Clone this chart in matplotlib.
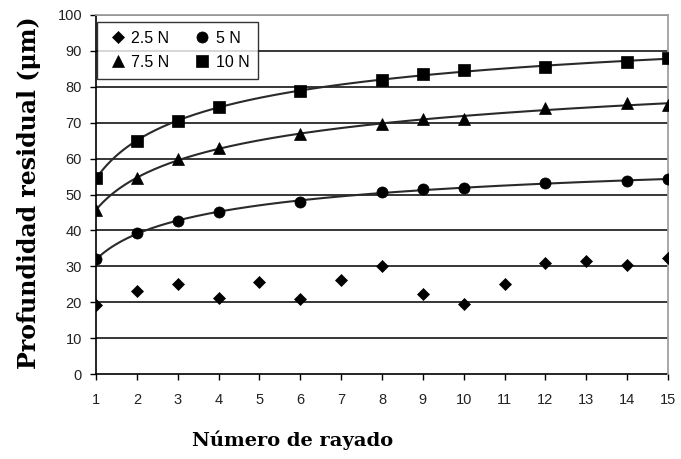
import numpy as np
import matplotlib
matplotlib.use('Agg')
import matplotlib.pyplot as plt

# datos
x_all = [1, 2, 3, 4, 5, 6, 7, 8, 9, 10, 11, 12, 13, 14, 15]
y_25 = [19.3, 23.0, 25.2, 21.3, 25.6, 21.0, 26.3, 30.2, 22.2, 19.5, 25.0, 31.0, 31.6, 30.5, 32.2]

x_fit = [1, 2, 3, 4, 6, 8, 9, 10, 12, 14, 15]
y_5 = [31.9, 39.2, 42.6, 45.2, 48.0, 50.8, 51.4, 51.7, 53.3, 53.8, 54.2]
y_75 = [45.7, 54.5, 59.8, 63.0, 66.8, 69.7, 70.9, 71.0, 74.2, 75.5, 74.9]
y_10 = [54.5, 65.0, 70.5, 74.3, 78.8, 82.0, 83.5, 84.6, 85.6, 87.0, 87.9]

x_ticks = list(range(1, 16))
y_ticks = list(range(0, 101, 10))


def trend(xs, ys):
    # linea de tendencia ajustada en ln(x)
    c = np.polyfit(np.log(xs), ys, 2)
    xx = np.linspace(min(xs), max(xs), 300)
    return xx, np.polyval(c, np.log(xx))


fig = plt.figure(figsize=(6.81, 4.59), dpi=100)
ax = fig.add_axes([96 / 681, 1 - 374 / 459, (668 - 96) / 681, (374 - 15) / 459])

for yv in y_ticks[1:]:
    ax.axhline(yv, color='black', lw=1.1, zorder=1)

for ys in (y_5, y_75, y_10):
    xx, yy = trend(x_fit, ys)
    ax.plot(xx, yy, color='#2a2a2a', lw=1.5, zorder=2)

h25, = ax.plot(x_all, y_25, 'D', color='black', ms=6.3, mew=0.5, ls='none', zorder=3)
h5, = ax.plot(x_fit, y_5, 'o', color='black', ms=8, mew=0.5, ls='none', zorder=3)
h75, = ax.plot(x_fit, y_75, '^', color='black', ms=8, mew=0.5, ls='none', zorder=3)
h10, = ax.plot(x_fit, y_10, 's', color='black', ms=8.5, mew=0.5, ls='none', zorder=3)

ax.set_xlim(1, 15)
ax.set_ylim(0, 100)
ax.set_xticks(x_ticks)
ax.set_yticks(y_ticks)
ax.tick_params(direction='out', length=4, width=1, labelsize=10.5, pad=6,
               labelfontfamily='Liberation Sans', labelcolor='#222222')
ax.tick_params(axis='x', pad=10)
for s in ('top', 'right'):
    ax.spines[s].set_color('#a0a0a0')
    ax.spines[s].set_linewidth(1.3)
ax.spines['left'].set_linewidth(1.2)
ax.spines['left'].set_color('black')
ax.spines['bottom'].set_visible(False)
ax.axhline(0, color='black', lw=1.2, zorder=1, clip_on=False)

ax.set_xlabel('Número de rayado', family='DejaVu Serif', fontweight='bold',
              fontsize=14)
ax.xaxis.label.set_verticalalignment('center')
ax.xaxis.set_label_coords((293 - 96) / (668 - 96), -(440 - 374) / (374 - 15))

ax.set_ylabel('Profundidad residual (\u03bcm)', family='DejaVu Serif',
              fontweight='bold', fontsize=17)
ax.yaxis.label.set_verticalalignment('center')
ax.yaxis.set_label_coords(-(96 - 29) / (668 - 96), (374 - 193) / (374 - 15))

# orden por filas: 2.5 N, 5 N / 7.5 N, 10 N
leg = ax.legend([h25, h75, h5, h10], ['2.5 N', '7.5 N', '5 N', '10 N'],
                loc='upper left', ncol=2, bbox_to_anchor=(0.002, 0.98),
                prop={'family': 'Liberation Sans', 'size': 11.5},
                frameon=True, fancybox=False, edgecolor='black',
                handlelength=1.5, handletextpad=0.1, columnspacing=1.3,
                borderpad=0.55, labelspacing=0.55, borderaxespad=0.0)
leg.get_frame().set_linewidth(1.0)

fig.savefig('out.png', dpi=100)
